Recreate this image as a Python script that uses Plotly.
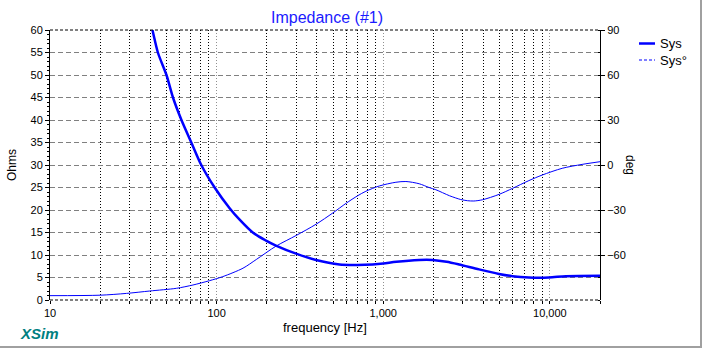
import math
import plotly.graph_objects as go

# ---- data ----
freq_z = [10, 20, 30, 41.2, 44.4, 50, 54.7, 61.5, 70.5, 80.9, 97.3, 119.7, 137, 164.8, 198, 227,
          300, 395, 546, 700, 863, 1000, 1200, 1644, 1972, 2400, 2852, 3758, 4955, 5960, 7485,
          9862, 12500, 20000]
impedance = [245, 122, 82, 60, 55, 50, 45, 40, 35, 30, 25, 20.4, 17.9, 15, 13.2, 12.1,
             10.3, 8.9, 7.9, 7.8, 7.9, 8.1, 8.5, 8.9, 8.9, 8.5, 7.9, 6.8, 5.8, 5.3, 5.0,
             5.0, 5.3, 5.4]

freq_p = [10, 20, 28.8, 39.7, 57.4, 72.1, 90.8, 109, 144, 173, 228, 300, 395, 498, 599, 702,
          787, 946, 1191, 1368, 1644, 1884, 2071, 2500, 2917, 3199, 3500, 3935, 4955, 5960,
          7485, 8995, 11860, 15610, 20000]
phase = [-87.1, -86.8, -85.6, -84, -82.2, -80, -77.1, -74.4, -68.8, -63, -54, -47, -39.5,
         -32, -25.5, -20.5, -17.5, -14, -11.5, -11.0, -12.5, -15, -16.5, -20.5, -23, -23.8,
         -24, -23.2, -19.6, -15.6, -10.4, -6.7, -2.2, 0.4, 2.2]

x_major = [10, 100, 1000, 10000]
x_major_text = ["10", "100", "1,000", "10,000"]
x_minor = [m * d for d in (10, 100, 1000) for m in range(2, 10)] + [20000]
y_ticks = list(range(0, 61, 5))
y2_ticks = [-60, -30, 0, 30, 60, 90]

FONT = "Liberation Sans, Arial, sans-serif"
BLUE = "#0000ff"

fig = go.Figure()
fig.add_trace(go.Scatter(x=freq_z, y=impedance, mode="lines", name="Sys",
                         line=dict(color=BLUE, width=2.5, shape="spline", smoothing=0.8),
                         showlegend=False, yaxis="y"))
fig.add_trace(go.Scatter(x=freq_p, y=phase, mode="lines", name="Sys°",
                         line=dict(color=BLUE, width=1, shape="spline", smoothing=0.8),
                         showlegend=False, yaxis="y2"))

fig.update_layout(
    width=702, height=348,
    margin=dict(l=50, r=102, t=30, b=48, pad=0),
    paper_bgcolor="white", plot_bgcolor="white",
    font=dict(family=FONT, size=11, color="#000000"),
    showlegend=False,
    xaxis=dict(
        type="log", range=[1, math.log10(20000)],
        tickvals=x_major, ticktext=x_major_text,
        showgrid=True, gridcolor="#909090", griddash="1px,2px", gridwidth=1,
        ticks="outside", ticklen=3, tickcolor="#000000",
        showline=False, zeroline=False,
        tickfont=dict(size=11, color="#000000"),
        minor=dict(tickvals=x_minor, showgrid=True, gridcolor="#000000",
                   griddash="1px,2px", gridwidth=1, ticks="outside", ticklen=3,
                   tickcolor="#000000"),
    ),
    yaxis=dict(
        range=[0, 60], tickvals=y_ticks,
        showgrid=True, gridcolor="#808080", griddash="5px,3px", gridwidth=1,
        ticks="outside", ticklen=4, tickcolor="#000000",
        showline=True, linecolor="#000000", linewidth=1, zeroline=False,
        tickfont=dict(size=11, color="#000000"),
        minor=dict(dtick=1, ticks="outside", ticklen=2, tickcolor="#000000", showgrid=False),
    ),
    yaxis2=dict(
        overlaying="y", side="right", range=[-90, 90], tickvals=y2_ticks,
        showgrid=False, ticks="outside", ticklen=4, tickcolor="#000000",
        showline=True, linecolor="#000000", linewidth=1, zeroline=False,
        tickfont=dict(size=11, color="#000000"),
        minor=dict(dtick=15, ticks="inside", ticklen=2, tickcolor="#000000", showgrid=False),
    ),
)

# borders of plot area (top / bottom dashed black)
fig.add_shape(type="line", xref="paper", yref="paper", x0=0, x1=1, y0=1, y1=1,
              line=dict(color="#000000", width=1, dash="3px,2px"))
fig.add_shape(type="line", xref="paper", yref="paper", x0=0, x1=1, y0=0, y1=0,
              line=dict(color="#000000", width=1, dash="3px,2px"))

# outer frame (right and bottom, light grey)
fig.add_shape(type="line", xref="paper", yref="paper",
              x0=(701 - 50) / 550, x1=(701 - 50) / 550, y0=(300 + 48) / 270, y1=-48 / 270,
              line=dict(color="#a0a0a0", width=2))
fig.add_shape(type="line", xref="paper", yref="paper",
              x0=-50 / 550, x1=(702 - 50) / 550, y0=(300 - 347) / 270, y1=(300 - 347) / 270,
              line=dict(color="#a0a0a0", width=2))

# legend (drawn manually)
fig.add_shape(type="line", xref="paper", yref="paper",
              x0=(639 - 50) / 550, x1=(655 - 50) / 550,
              y0=(300 - 43.5) / 270, y1=(300 - 43.5) / 270,
              line=dict(color=BLUE, width=2.5))
fig.add_shape(type="line", xref="paper", yref="paper",
              x0=(639 - 50) / 550, x1=(655 - 50) / 550,
              y0=(300 - 60) / 270, y1=(300 - 60) / 270,
              line=dict(color=BLUE, width=1, dash="3px,2px"))

annots = [
    dict(text="Impedance (#1)", x=(327 - 50) / 550, y=(300 - 17) / 270,
         font=dict(size=16, color="#1a1aff")),
    dict(text="frequency [Hz]", x=0.5, y=(300 - 327) / 270, font=dict(size=13, color="#000000")),
    dict(text="<b><i>XSim</i></b>", x=(39 - 50) / 550, y=(300 - 333) / 270,
         font=dict(size=15, color="#008080")),
    dict(text="Ohms", x=(12 - 50) / 550, y=0.5, textangle=-90, font=dict(size=12, color="#000000")),
    dict(text="deg", x=(630 - 50) / 550, y=0.5, textangle=90, font=dict(size=12, color="#000000")),
    dict(text="Sys", x=(658 - 50) / 550, y=(300 - 43.5) / 270, xanchor="left",
         font=dict(size=13, color="#000000")),
    dict(text="Sys°", x=(658 - 50) / 550, y=(300 - 60) / 270, xanchor="left",
         font=dict(size=13, color="#000000")),
]
for a in annots:
    base = dict(xref="paper", yref="paper", showarrow=False, xanchor="center", yanchor="middle")
    base.update(a)
    fig.add_annotation(**base)

fig.write_html("out.html")
